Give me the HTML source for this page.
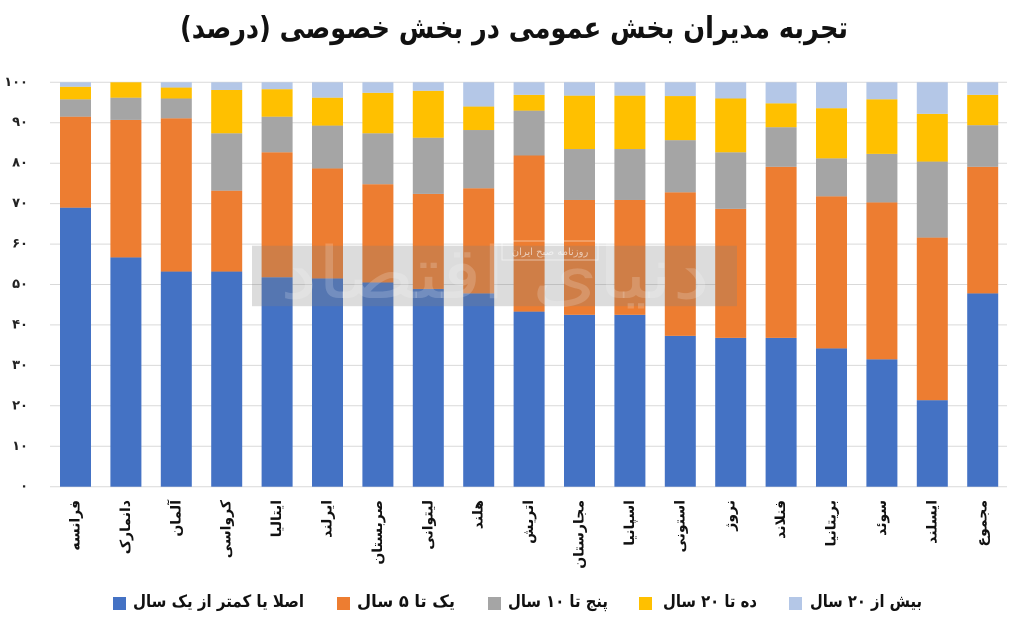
<!DOCTYPE html>
<html>
<head>
<meta charset="utf-8">
<style>
html,body{margin:0;padding:0;background:#fff;}
svg{display:block;}
text{font-family:"DejaVu Sans","Liberation Sans",sans-serif;}
</style>
</head>
<body>
<svg width="1024" height="630" viewBox="0 0 1024 630" xmlns="http://www.w3.org/2000/svg">
<rect width="1024" height="630" fill="#fff"/>
<!-- Title -->
<text x="514" y="38" direction="rtl" text-anchor="middle" font-size="30" font-weight="bold" fill="#111" textLength="668" lengthAdjust="spacingAndGlyphs">تجربه مدیران بخش عمومی در بخش خصوصی (درصد)</text>

<!-- gridlines -->
<g stroke="#d9d9d9" stroke-width="1">
<line x1="50" x2="1007" y1="82.3" y2="82.3"/>
<line x1="50" x2="1007" y1="122.7" y2="122.7"/>
<line x1="50" x2="1007" y1="163.2" y2="163.2"/>
<line x1="50" x2="1007" y1="203.6" y2="203.6"/>
<line x1="50" x2="1007" y1="244.1" y2="244.1"/>
<line x1="50" x2="1007" y1="284.5" y2="284.5"/>
<line x1="50" x2="1007" y1="324.9" y2="324.9"/>
<line x1="50" x2="1007" y1="365.4" y2="365.4"/>
<line x1="50" x2="1007" y1="405.8" y2="405.8"/>
<line x1="50" x2="1007" y1="446.3" y2="446.3"/>
<line x1="50" x2="1007" y1="486.7" y2="486.7"/>
</g>

<!-- y labels -->
<g font-size="13" font-weight="bold" fill="#222" text-anchor="end" dominant-baseline="central">
<text x="28" y="82.3">۱۰۰</text>
<text x="28" y="122.7">۹۰</text>
<text x="28" y="163.2">۸۰</text>
<text x="28" y="203.6">۷۰</text>
<text x="28" y="244.1">۶۰</text>
<text x="28" y="284.5">۵۰</text>
<text x="28" y="324.9">۴۰</text>
<text x="28" y="365.4">۳۰</text>
<text x="28" y="405.8">۲۰</text>
<text x="28" y="446.3">۱۰</text>
<text x="28" y="486.7">۰</text>
</g>

<!-- bars (data coordinates, flipped) -->
<g transform="matrix(1,0,0,-4.044,0,486.7)">
<g fill="#4472C4">
<rect x="60" y="0" width="31" height="69.0"/>
<rect x="110.4" y="0" width="31" height="56.7"/>
<rect x="160.8" y="0" width="31" height="53.2"/>
<rect x="211.2" y="0" width="31" height="53.2"/>
<rect x="261.6" y="0" width="31" height="51.8"/>
<rect x="312" y="0" width="31" height="51.5"/>
<rect x="362.4" y="0" width="31" height="50.5"/>
<rect x="412.8" y="0" width="31" height="48.9"/>
<rect x="463.2" y="0" width="31" height="47.8"/>
<rect x="513.6" y="0" width="31" height="43.3"/>
<rect x="564" y="0" width="31" height="42.5"/>
<rect x="614.4" y="0" width="31" height="42.5"/>
<rect x="664.8" y="0" width="31" height="37.3"/>
<rect x="715.2" y="0" width="31" height="36.8"/>
<rect x="765.6" y="0" width="31" height="36.8"/>
<rect x="816" y="0" width="31" height="34.2"/>
<rect x="866.4" y="0" width="31" height="31.5"/>
<rect x="916.8" y="0" width="31" height="21.4"/>
<rect x="967.2" y="0" width="31" height="47.8"/>
</g>
<g fill="#ED7D31">
<rect x="60" y="69.0" width="31" height="22.5"/>
<rect x="110.4" y="56.7" width="31" height="34.0"/>
<rect x="160.8" y="53.2" width="31" height="37.9"/>
<rect x="211.2" y="53.2" width="31" height="20.0"/>
<rect x="261.6" y="51.8" width="31" height="30.9"/>
<rect x="312" y="51.5" width="31" height="27.2"/>
<rect x="362.4" y="50.5" width="31" height="24.3"/>
<rect x="412.8" y="48.9" width="31" height="23.5"/>
<rect x="463.2" y="47.8" width="31" height="26.0"/>
<rect x="513.6" y="43.3" width="31" height="38.6"/>
<rect x="564" y="42.5" width="31" height="28.4"/>
<rect x="614.4" y="42.5" width="31" height="28.4"/>
<rect x="664.8" y="37.3" width="31" height="35.5"/>
<rect x="715.2" y="36.8" width="31" height="31.9"/>
<rect x="765.6" y="36.8" width="31" height="42.3"/>
<rect x="816" y="34.2" width="31" height="37.6"/>
<rect x="866.4" y="31.5" width="31" height="38.8"/>
<rect x="916.8" y="21.4" width="31" height="40.2"/>
<rect x="967.2" y="47.8" width="31" height="31.3"/>
</g>
<g fill="#A5A5A5">
<rect x="60" y="91.5" width="31" height="4.3"/>
<rect x="110.4" y="90.7" width="31" height="5.5"/>
<rect x="160.8" y="91.1" width="31" height="4.9"/>
<rect x="211.2" y="73.2" width="31" height="14.2"/>
<rect x="261.6" y="82.7" width="31" height="8.8"/>
<rect x="312" y="78.7" width="31" height="10.6"/>
<rect x="362.4" y="74.8" width="31" height="12.6"/>
<rect x="412.8" y="72.4" width="31" height="13.9"/>
<rect x="463.2" y="73.8" width="31" height="14.4"/>
<rect x="513.6" y="81.9" width="31" height="11.1"/>
<rect x="564" y="70.9" width="31" height="12.6"/>
<rect x="614.4" y="70.9" width="31" height="12.6"/>
<rect x="664.8" y="72.8" width="31" height="12.9"/>
<rect x="715.2" y="68.7" width="31" height="14.0"/>
<rect x="765.6" y="79.1" width="31" height="9.8"/>
<rect x="816" y="71.8" width="31" height="9.4"/>
<rect x="866.4" y="70.3" width="31" height="12.0"/>
<rect x="916.8" y="61.6" width="31" height="18.8"/>
<rect x="967.2" y="79.1" width="31" height="10.3"/>
</g>
<g fill="#FFC000">
<rect x="60" y="95.8" width="31" height="3.1"/>
<rect x="110.4" y="96.2" width="31" height="3.8"/>
<rect x="160.8" y="96.0" width="31" height="2.7"/>
<rect x="211.2" y="87.4" width="31" height="10.7"/>
<rect x="261.6" y="91.5" width="31" height="6.8"/>
<rect x="312" y="89.3" width="31" height="6.9"/>
<rect x="362.4" y="87.4" width="31" height="10.0"/>
<rect x="412.8" y="86.3" width="31" height="11.6"/>
<rect x="463.2" y="88.2" width="31" height="5.8"/>
<rect x="513.6" y="93.0" width="31" height="3.9"/>
<rect x="564" y="83.5" width="31" height="13.2"/>
<rect x="614.4" y="83.5" width="31" height="13.2"/>
<rect x="664.8" y="85.7" width="31" height="10.9"/>
<rect x="715.2" y="82.7" width="31" height="13.3"/>
<rect x="765.6" y="88.9" width="31" height="5.9"/>
<rect x="816" y="81.2" width="31" height="12.4"/>
<rect x="866.4" y="82.3" width="31" height="13.5"/>
<rect x="916.8" y="80.4" width="31" height="11.8"/>
<rect x="967.2" y="89.4" width="31" height="7.5"/>
</g>
<g fill="#B4C7E7">
<rect x="60" y="98.9" width="31" height="1.1"/>
<rect x="160.8" y="98.7" width="31" height="1.3"/>
<rect x="211.2" y="98.1" width="31" height="1.9"/>
<rect x="261.6" y="98.3" width="31" height="1.7"/>
<rect x="312" y="96.2" width="31" height="3.8"/>
<rect x="362.4" y="97.4" width="31" height="2.6"/>
<rect x="412.8" y="97.9" width="31" height="2.1"/>
<rect x="463.2" y="94.0" width="31" height="6.0"/>
<rect x="513.6" y="96.9" width="31" height="3.1"/>
<rect x="564" y="96.7" width="31" height="3.3"/>
<rect x="614.4" y="96.7" width="31" height="3.3"/>
<rect x="664.8" y="96.6" width="31" height="3.4"/>
<rect x="715.2" y="96.0" width="31" height="4.0"/>
<rect x="765.6" y="94.8" width="31" height="5.2"/>
<rect x="816" y="93.6" width="31" height="6.4"/>
<rect x="866.4" y="95.8" width="31" height="4.2"/>
<rect x="916.8" y="92.2" width="31" height="7.8"/>
<rect x="967.2" y="96.9" width="31" height="3.1"/>
</g>
</g>

<!-- watermark -->
<rect x="252" y="245.7" width="485" height="60.5" fill="rgb(128,128,128)" fill-opacity="0.28"/>
<text x="495" y="298" direction="rtl" text-anchor="middle" font-size="72" fill="#fff" fill-opacity="0.18" textLength="430" lengthAdjust="spacingAndGlyphs">دنیای اقتصاد</text>
<rect x="502" y="241" width="96" height="19" fill="none" stroke="#fff" stroke-opacity="0.5" stroke-width="1"/>
<text x="550" y="255" direction="rtl" text-anchor="middle" font-size="10" fill="#fff" fill-opacity="0.6">روزنامه صبح ایران</text>

<!-- x labels -->
<g font-size="14" font-weight="bold" fill="#111" text-anchor="end" dominant-baseline="central">
<text transform="translate(75.5,500) rotate(-90)">فرانسه</text>
<text transform="translate(125.9,500) rotate(-90)">دانمارک</text>
<text transform="translate(176.3,500) rotate(-90)">آلمان</text>
<text transform="translate(226.7,500) rotate(-90)">کرواسی</text>
<text transform="translate(277.1,500) rotate(-90)">ایتالیا</text>
<text transform="translate(327.5,500) rotate(-90)">ایرلند</text>
<text transform="translate(377.9,500) rotate(-90)">صربستان</text>
<text transform="translate(428.3,500) rotate(-90)">لیتوانی</text>
<text transform="translate(478.7,500) rotate(-90)">هلند</text>
<text transform="translate(529.1,500) rotate(-90)">اتریش</text>
<text transform="translate(579.5,500) rotate(-90)">مجارستان</text>
<text transform="translate(629.9,500) rotate(-90)">اسپانیا</text>
<text transform="translate(680.3,500) rotate(-90)">استونی</text>
<text transform="translate(730.7,500) rotate(-90)">نروژ</text>
<text transform="translate(781.1,500) rotate(-90)">فنلاند</text>
<text transform="translate(831.5,500) rotate(-90)">بریتانیا</text>
<text transform="translate(881.9,500) rotate(-90)">سوئد</text>
<text transform="translate(932.3,500) rotate(-90)">ایسلند</text>
<text transform="translate(982.7,500) rotate(-90)">مجموع</text>
</g>

<!-- legend -->
<rect x="113" y="597" width="13" height="13" fill="#4472C4"/>
<rect x="337" y="597" width="13" height="13" fill="#ED7D31"/>
<rect x="488" y="597" width="13" height="13" fill="#A5A5A5"/>
<rect x="639" y="597" width="13" height="13" fill="#FFC000"/>
<rect x="789" y="597" width="13" height="13" fill="#B4C7E7"/>
<g font-size="17" font-weight="bold" fill="#111" text-anchor="middle" direction="rtl">
<text x="218.5" y="607" textLength="171" lengthAdjust="spacingAndGlyphs">اصلا یا کمتر از یک سال</text>
<text x="406" y="607" textLength="98" lengthAdjust="spacingAndGlyphs">یک تا ۵ سال</text>
<text x="558" y="607" textLength="100" lengthAdjust="spacingAndGlyphs">پنج تا ۱۰ سال</text>
<text x="710" y="607" textLength="94" lengthAdjust="spacingAndGlyphs">ده تا ۲۰ سال</text>
<text x="866" y="607" textLength="112" lengthAdjust="spacingAndGlyphs">بیش از ۲۰ سال</text>
</g>
</svg>
</body>
</html>
